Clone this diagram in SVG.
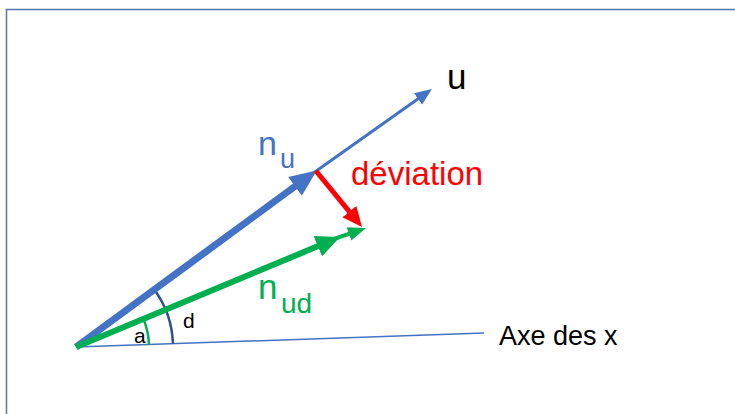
<svg xmlns="http://www.w3.org/2000/svg" width="735" height="414" viewBox="0 0 735 414">
<style>
  text { font-family: "Liberation Sans", Arial, sans-serif; }
  .blue { fill: #4472C4; }
  .green { fill: #00B050; }
  .red { fill: #FF0000; }
  .black { fill: #000000; }
</style>
<defs>
  <marker id="hBlueBig" markerUnits="userSpaceOnUse" orient="auto" markerWidth="30" markerHeight="26" refX="12" refY="13" viewBox="0 0 30 26">
    <path d="M0,1.5 L27,13 L0,24.5 z" fill="#4472C4"/>
  </marker>
  <marker id="hBlueSmall" markerUnits="userSpaceOnUse" orient="auto" markerWidth="20" markerHeight="16" refX="7" refY="8" viewBox="0 0 20 16">
    <path d="M0,1 L17,8 L0,15 z" fill="#4472C4"/>
  </marker>
  <marker id="hGreenBig" markerUnits="userSpaceOnUse" orient="auto" markerWidth="28" markerHeight="24" refX="12" refY="12" viewBox="0 0 28 24">
    <path d="M0,1 L24,12 L0,23 z" fill="#00B050"/>
  </marker>
  <marker id="hGreenSmall" markerUnits="userSpaceOnUse" orient="auto" markerWidth="20" markerHeight="16" refX="9" refY="8" viewBox="0 0 20 16">
    <path d="M0,1 L18,8 L0,15 z" fill="#00B050"/>
  </marker>
  <marker id="hRed" markerUnits="userSpaceOnUse" orient="auto" markerWidth="22" markerHeight="20" refX="10" refY="10" viewBox="0 0 22 20">
    <path d="M0,1 L20,10 L0,19 z" fill="#FF0000"/>
  </marker>
</defs>

<rect id="frame" x="6.5" y="9.5" width="740" height="420" fill="#FFFFFF" stroke="#5576AC" stroke-width="1.5"/>

<g id="connectors" fill="none">
  <line id="axe-x" x1="76" y1="347" x2="484" y2="333" stroke="#4472C4" stroke-width="1.5"/>
  <path id="arc-d" d="M172.95,343.8 A97,97 0 0 0 154.2,289.6" stroke="#2F528F" stroke-width="2.5"/>
  <path id="arc-a" d="M148.96,344.6 A73,73 0 0 0 143.6,319.4" stroke="#00B050" stroke-width="2.5"/>
  <line id="vec-u" x1="312" y1="174" x2="423.8" y2="94.8" stroke="#4472C4" stroke-width="3" marker-end="url(#hBlueSmall)"/>
  <line id="vec-nu" x1="76" y1="347" x2="304.7" y2="179.3" stroke="#4472C4" stroke-width="7" marker-end="url(#hBlueBig)"/>
  <line id="vec-nud-ext" x1="334" y1="239" x2="357.5" y2="230.9" stroke="#00B050" stroke-width="4" marker-end="url(#hGreenSmall)"/>
  <line id="vec-nud" x1="76" y1="347" x2="328.9" y2="241.6" stroke="#00B050" stroke-width="6" marker-end="url(#hGreenBig)"/>
  <line id="vec-dev" x1="316" y1="171" x2="355.7" y2="219.3" stroke="#FF0000" stroke-width="5" marker-end="url(#hRed)"/>
</g>

<g id="label-u"><text class="black" x="447" y="89" font-size="35">u</text></g>
<g id="label-nu"><text class="blue" x="258" y="155" font-size="34">n</text><text class="blue" x="280" y="168" font-size="27">u</text></g>
<g id="label-deviation"><text class="red" x="351" y="185" font-size="33">déviation</text></g>
<g id="label-nud"><text class="green" x="258" y="299" font-size="35">n</text><text class="green" x="281" y="313" font-size="28">ud</text></g>
<g id="label-a"><text class="black" x="134" y="343" font-size="21">a</text></g>
<g id="label-d"><text class="black" x="183" y="328" font-size="21">d</text></g>
<g id="label-axe"><text class="black" x="499" y="345" font-size="27">Axe des x</text></g>
</svg>
